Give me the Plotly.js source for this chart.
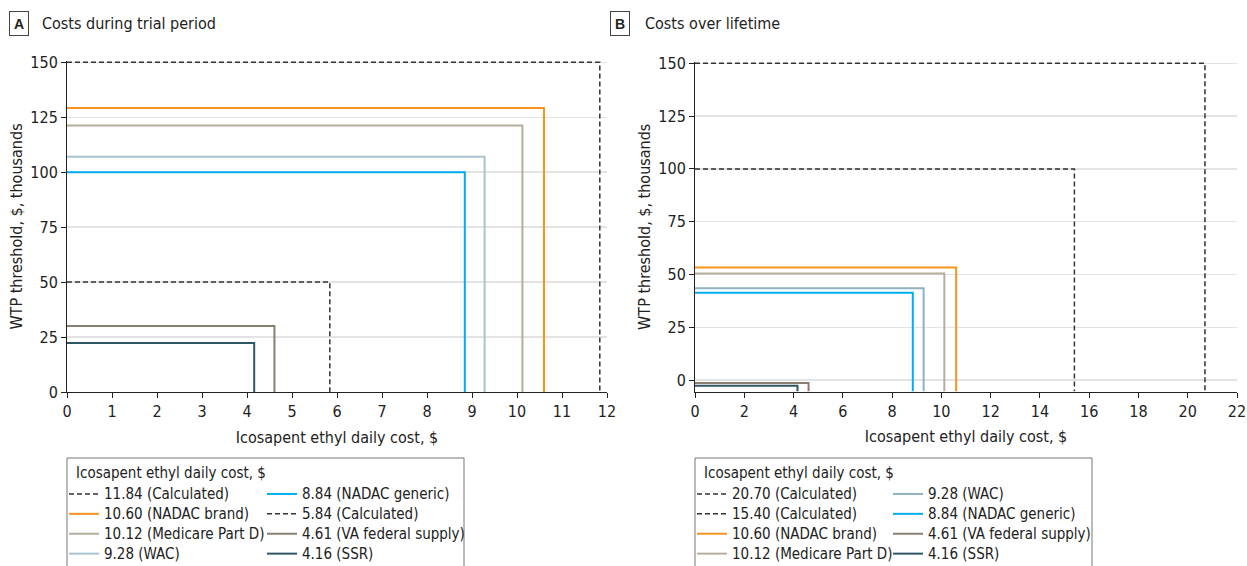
<!DOCTYPE html>
<html>
<head>
<meta charset="utf-8">
<script src="https://cdn.plot.ly/plotly-3.0.1.min.js"></script>
<style>html,body{margin:0;padding:0;background:#fff}#chart{width:1247px;height:566px}</style>
</head>
<body>
<div id="chart"></div>
<script>
const FONT = '"DejaVu Sans Condensed", "DejaVu Sans", sans-serif';

// ---- Panel A: costs during trial period ----
const costsA = [11.84, 10.60, 10.12, 9.28, 8.84, 5.84, 4.61, 4.16];
const sourcesA = ['Calculated', 'NADAC brand', 'Medicare Part D', 'WAC', 'NADAC generic', 'Calculated', 'VA federal supply', 'SSR'];
const wtpA = [150, 129.2, 121.2, 107.0, 100, 50, 30, 22.3];
const xTicksA = [0, 1, 2, 3, 4, 5, 6, 7, 8, 9, 10, 11, 12];

// ---- Panel B: costs over lifetime ----
const costsB = [20.70, 15.40, 10.60, 10.12, 9.28, 8.84, 4.61, 4.16];
const sourcesB = ['Calculated', 'Calculated', 'NADAC brand', 'Medicare Part D', 'WAC', 'NADAC generic', 'VA federal supply', 'SSR'];
const wtpB = [150, 100, 53.3, 50.5, 43.5, 41.3, -1.4, -2.7];
const xTicksB = [0, 2, 4, 6, 8, 10, 12, 14, 16, 18, 20, 22];

const yTicks = [0, 25, 50, 75, 100, 125, 150];

const panelTitles = ['Costs during trial period', 'Costs over lifetime'];
const panelLetters = ['A', 'B'];
const xTitle = 'Icosapent ethyl daily cost, $';
const yTitle = 'WTP threshold, $, thousands';
const legendTitle = 'Icosapent ethyl daily cost, $';

// styles
const styles = {
  'Calculated':        {color: '#333333', width: 1.5, dash: '5px,3px'},
  'NADAC brand':       {color: '#F7941E', width: 2, dash: 'solid'},
  'Medicare Part D':   {color: '#B7AD9C', width: 2, dash: 'solid'},
  'WAC':               {color: '#A9C3D1', width: 2, dash: 'solid'},
  'NADAC generic':     {color: '#00AEEF', width: 2, dash: 'solid'},
  'VA federal supply': {color: '#8A7E71', width: 2, dash: 'solid'},
  'SSR':               {color: '#2E5766', width: 2, dash: 'solid'}
};
const wacColorB = '#8FB1C2';

const W = 1247, H = 566;
const px = v => v / W;
const py = v => 1 - v / H;

const yRangeA = [0, 150.6];
const yRangeB = [-5.4, 150.6];

const FS = 16;
const LFS = 15;

function buildTraces(costs, sources, wtp, xa, ya, yBottom, legends, wacColor) {
  return costs.map((c, i) => {
    const s = Object.assign({}, styles[sources[i]]);
    if (sources[i] === 'WAC' && wacColor) s.color = wacColor;
    const col = Math.floor(i / 4);
    return {
      type: 'scatter', mode: 'lines',
      x: [0, c, c], y: [wtp[i], wtp[i], yBottom],
      xaxis: xa, yaxis: ya,
      name: '<span style="font-size:' + LFS + 'px">' + c.toFixed(2) + ' (' + sources[i] + ')</span>',
      legend: legends[col],
      line: {color: s.color, width: s.width, dash: s.dash},
      hoverinfo: 'skip'
    };
  });
}

const traces = [].concat(
  buildTraces(costsA, sourcesA, wtpA, 'x', 'y', yRangeA[0], ['legend', 'legend2'], null),
  buildTraces(costsB, sourcesB, wtpB, 'x2', 'y2', yRangeB[0], ['legend3', 'legend4'], wacColorB)
);

const tickFont = {family: FONT, size: FS, color: '#222'};
const titleFont = {family: FONT, size: FS, color: '#222'};

function xAxis(domain, range, ticks, anchor) {
  return {
    domain: domain, range: range, anchor: anchor, tickvals: ticks,
    ticks: 'outside', ticklen: 5, tickcolor: '#222', tickwidth: 1,
    showline: true, linecolor: '#222', linewidth: 1,
    showgrid: false, zeroline: false, automargin: false, ticklabeloverflow: 'allow',
    tickfont: tickFont, title: {text: xTitle, font: titleFont, standoff: 11}
  };
}
function yAxis(domain, range, anchor) {
  return {
    domain: domain, range: range, anchor: anchor, tickvals: yTicks,
    ticks: 'outside', ticklen: 5, tickcolor: '#222', tickwidth: 1,
    showline: true, linecolor: '#222', linewidth: 1,
    showgrid: true, gridcolor: '#e3e3e3', gridwidth: 1.5, zeroline: false, automargin: false,
    ticklabeloverflow: 'allow',
    tickfont: tickFont, title: {text: yTitle, font: titleFont, standoff: 3}
  };
}

function legendAt(x) {
  return {
    x: px(x), y: py(479), xanchor: 'left', yanchor: 'top', orientation: 'v',
    bgcolor: 'rgba(0,0,0,0)', borderwidth: 0,
    font: {family: FONT, size: 13, color: '#222'},
    itemwidth: 30, tracegroupgap: 0, traceorder: 'normal',
    itemclick: false, itemdoubleclick: false
  };
}

const annotations = [];
const shapes = [];
const letterX = [19, 620], titleX = [40, 643], boxX = [[67, 464], [695, 1092]];
for (let p = 0; p < 2; p++) {
  annotations.push({
    xref: 'paper', yref: 'paper', x: px(letterX[p]), y: py(23.5), xanchor: 'center', yanchor: 'middle',
    text: '<b>' + panelLetters[p] + '</b>', showarrow: false,
    font: {family: '"Liberation Sans", Arial, sans-serif', size: 14, color: '#222'},
    bordercolor: '#444', borderwidth: 1, borderpad: 1, width: 16, height: 21
  });
  annotations.push({
    xref: 'paper', yref: 'paper', x: px(titleX[p]), y: py(24), xanchor: 'left', yanchor: 'middle',
    text: panelTitles[p], showarrow: false, font: {family: FONT, size: FS, color: '#222'}
  });
  annotations.push({
    xref: 'paper', yref: 'paper', x: px(boxX[p][0] + 7), y: py(473), xanchor: 'left', yanchor: 'middle',
    text: legendTitle, showarrow: false, font: {family: FONT, size: LFS, color: '#222'}
  });
  shapes.push({
    type: 'rect', xref: 'paper', yref: 'paper',
    x0: px(boxX[p][0]), x1: px(boxX[p][1]), y0: py(458), y1: py(580),
    line: {color: '#777', width: 1}, fillcolor: 'rgba(0,0,0,0)', layer: 'below'
  });
}

const layout = {
  width: W, height: H,
  margin: {l: 0, r: 0, t: 0, b: 0, autoexpand: false},
  paper_bgcolor: '#fff', plot_bgcolor: '#fff',
  font: {family: FONT, color: '#222'},
  xaxis: xAxis([px(67), px(607)], [0, 12], xTicksA, 'y'),
  yaxis: yAxis([py(392), py(61)], yRangeA, 'x'),
  xaxis2: xAxis([px(695), px(1237)], [0, 22], xTicksB, 'y2'),
  yaxis2: yAxis([py(391.5), py(62)], yRangeB, 'x2'),
  legend: legendAt(64),
  legend2: legendAt(262),
  legend3: legendAt(692),
  legend4: legendAt(888),
  annotations: annotations,
  shapes: shapes,
  showlegend: true
};

Plotly.newPlot('chart', traces, layout, {displayModeBar: false, staticPlot: true});
</script>
</body>
</html>
